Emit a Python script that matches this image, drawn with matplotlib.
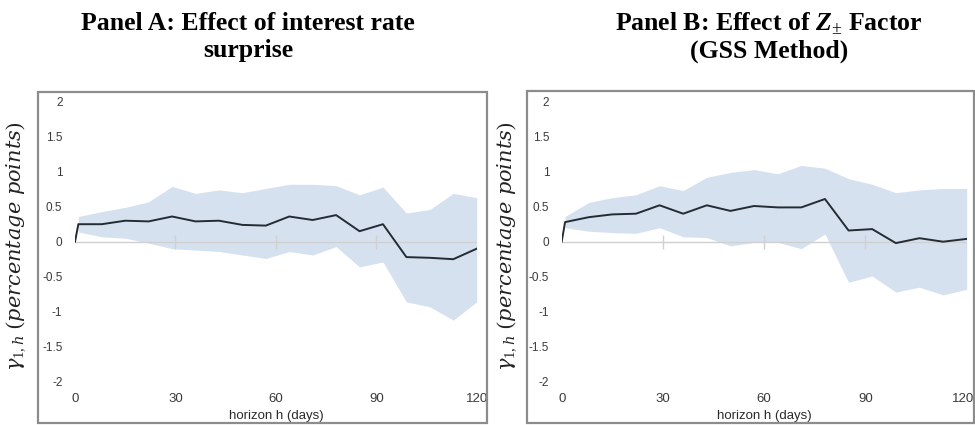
import matplotlib.pyplot as plt
import matplotlib.transforms as mtransforms
from matplotlib.patches import Rectangle

# horizon in days; the confidence band starts on day 1
horizon = [0, 1, 8, 15, 22, 29, 36, 43, 50, 57, 64, 71, 78, 85, 92, 99, 106, 113, 120]
band_horizon = [1, 8, 15, 22, 29, 36, 43, 50, 57, 64, 71, 78, 85, 92, 99, 106, 113, 120]

# Panel A: interest rate surprise
coef_a = [0, 0.25, 0.25, 0.30, 0.29, 0.36, 0.29, 0.30, 0.24, 0.23, 0.36, 0.31, 0.38,
          0.15, 0.25, -0.22, -0.23, -0.25, -0.10]
upper_a = [0.36, 0.43, 0.49, 0.57, 0.79, 0.69, 0.74, 0.70, 0.76, 0.82, 0.82, 0.80,
           0.67, 0.78, 0.41, 0.46, 0.69, 0.63]
lower_a = [0.14, 0.07, 0.05, -0.02, -0.10, -0.12, -0.14, -0.19, -0.24, -0.14, -0.19, -0.07,
           -0.36, -0.29, -0.86, -0.93, -1.12, -0.86]

# Panel B: Z factor (GSS method)
coef_b = [0, 0.28, 0.35, 0.39, 0.40, 0.52, 0.40, 0.52, 0.44, 0.51, 0.49, 0.49, 0.61,
          0.16, 0.18, -0.02, 0.05, 0.00, 0.04]
upper_b = [0.36, 0.56, 0.63, 0.67, 0.80, 0.73, 0.92, 0.99, 1.03, 0.97, 1.09, 1.05,
           0.90, 0.82, 0.70, 0.74, 0.76, 0.76]
lower_b = [0.20, 0.15, 0.13, 0.12, 0.20, 0.07, 0.06, -0.06, -0.01, -0.01, -0.10, 0.11,
           -0.58, -0.49, -0.72, -0.65, -0.76, -0.68]

x_ticks = [0, 30, 60, 90, 120]
y_ticks = [2, 1.5, 1, 0.5, 0, -0.5, -1, -1.5, -2]
y_labels = ['2', '1.5', '1', '0.5', '0', '-0.5', '-1', '-1.5', '-2']

plt.rcParams['mathtext.fontset'] = 'custom'
plt.rcParams['mathtext.rm'] = 'Liberation Serif'
plt.rcParams['mathtext.it'] = 'DejaVu Serif:italic'
plt.rcParams['mathtext.bf'] = 'Liberation Serif:bold:italic'

W, H = 975, 425
fig = plt.figure(figsize=(W / 100, H / 100), dpi=100)

tick_font = ['Liberation Sans Narrow', 'Liberation Sans', 'DejaVu Sans']
serif = ['Liberation Serif', 'DejaVu Serif']


def px_box(x0, y0, x1, y1):
    return [x0 / W, 1 - y1 / H, (x1 - x0) / W, (y1 - y0) / H]


def panel(box, frame, h, coef, lo, hi, label_x):
    # outer grey frame around the chart
    fx0, fy0, fx1, fy1 = frame
    fig.add_artist(Rectangle((fx0 / W, 1 - fy1 / H), (fx1 - fx0) / W, (fy1 - fy0) / H,
                             transform=fig.transFigure, fill=False,
                             ec='#8c8c8c', lw=1.6))
    ax = fig.add_axes(px_box(*box))
    ax.fill_between(band_horizon, lo, hi, color='#d6e1ef', lw=0, zorder=1)
    ax.axhline(0, color='#d0d0d0', lw=1, zorder=2)
    ax.vlines(x_ticks[1:], -0.1, 0.1, color='#d0d0d0', lw=1, zorder=2)
    ax.plot(h, coef, color='#232b35', lw=1.4, zorder=3)
    ax.set_xlim(0, 120)
    ax.set_ylim(-2, 2)
    for s in ax.spines.values():
        s.set_visible(False)
    ax.set_xticks(x_ticks)
    ax.set_yticks(y_ticks)
    ax.set_yticklabels(y_labels)
    ax.tick_params(length=0, labelcolor='#3a3a3a')
    ax.tick_params(axis='y', pad=9, labelsize=8.5)
    ax.tick_params(axis='x', pad=8, labelsize=9.5)
    for t in ax.get_xticklabels() + ax.get_yticklabels():
        t.set_family(tick_font)
    ax.set_xlabel('horizon h (days)', fontsize=9.5, color='#2a2a2a', family=tick_font)
    ax.xaxis.set_label_coords(0.5, -0.1)
    fig.text(label_x / W, 1 - 246 / H, r'$\gamma_{1,h}\ \mathit{(percentage\ points)}$',
             rotation=90, ha='center', va='center', fontsize=15, color='#222222')
    return ax


panel((75, 101.7, 476.7, 381.7), (38, 92, 487, 423), horizon, coef_a, lower_a, upper_a, 16)
ax_b = panel((561.7, 101.7, 966.7, 381.7), (527, 91, 974, 423), horizon, coef_b, lower_b,
             upper_b, 507)

# keep the last day label inside the frame on the right panel
last = ax_b.xaxis.get_major_ticks()[-1].label1
last.set_transform(last.get_transform() +
                   mtransforms.ScaledTranslation(-4 / 100, 0, fig.dpi_scale_trans))

title_kw = dict(ha='center', va='center', fontsize=18.5, fontweight='bold', family=serif)
fig.text(248 / W, 1 - 24 / H, 'Panel A: Effect of interest rate', **title_kw)
fig.text(248 / W, 1 - 51 / H, 'surprise', **title_kw)
fig.text(769 / W, 1 - 24 / H, r'Panel B: Effect of $\mathbf{Z}_{\pm}$ Factor', **title_kw)
fig.text(769 / W, 1 - 51 / H, '(GSS Method)', **title_kw)

fig.savefig('out.png', dpi=100)
